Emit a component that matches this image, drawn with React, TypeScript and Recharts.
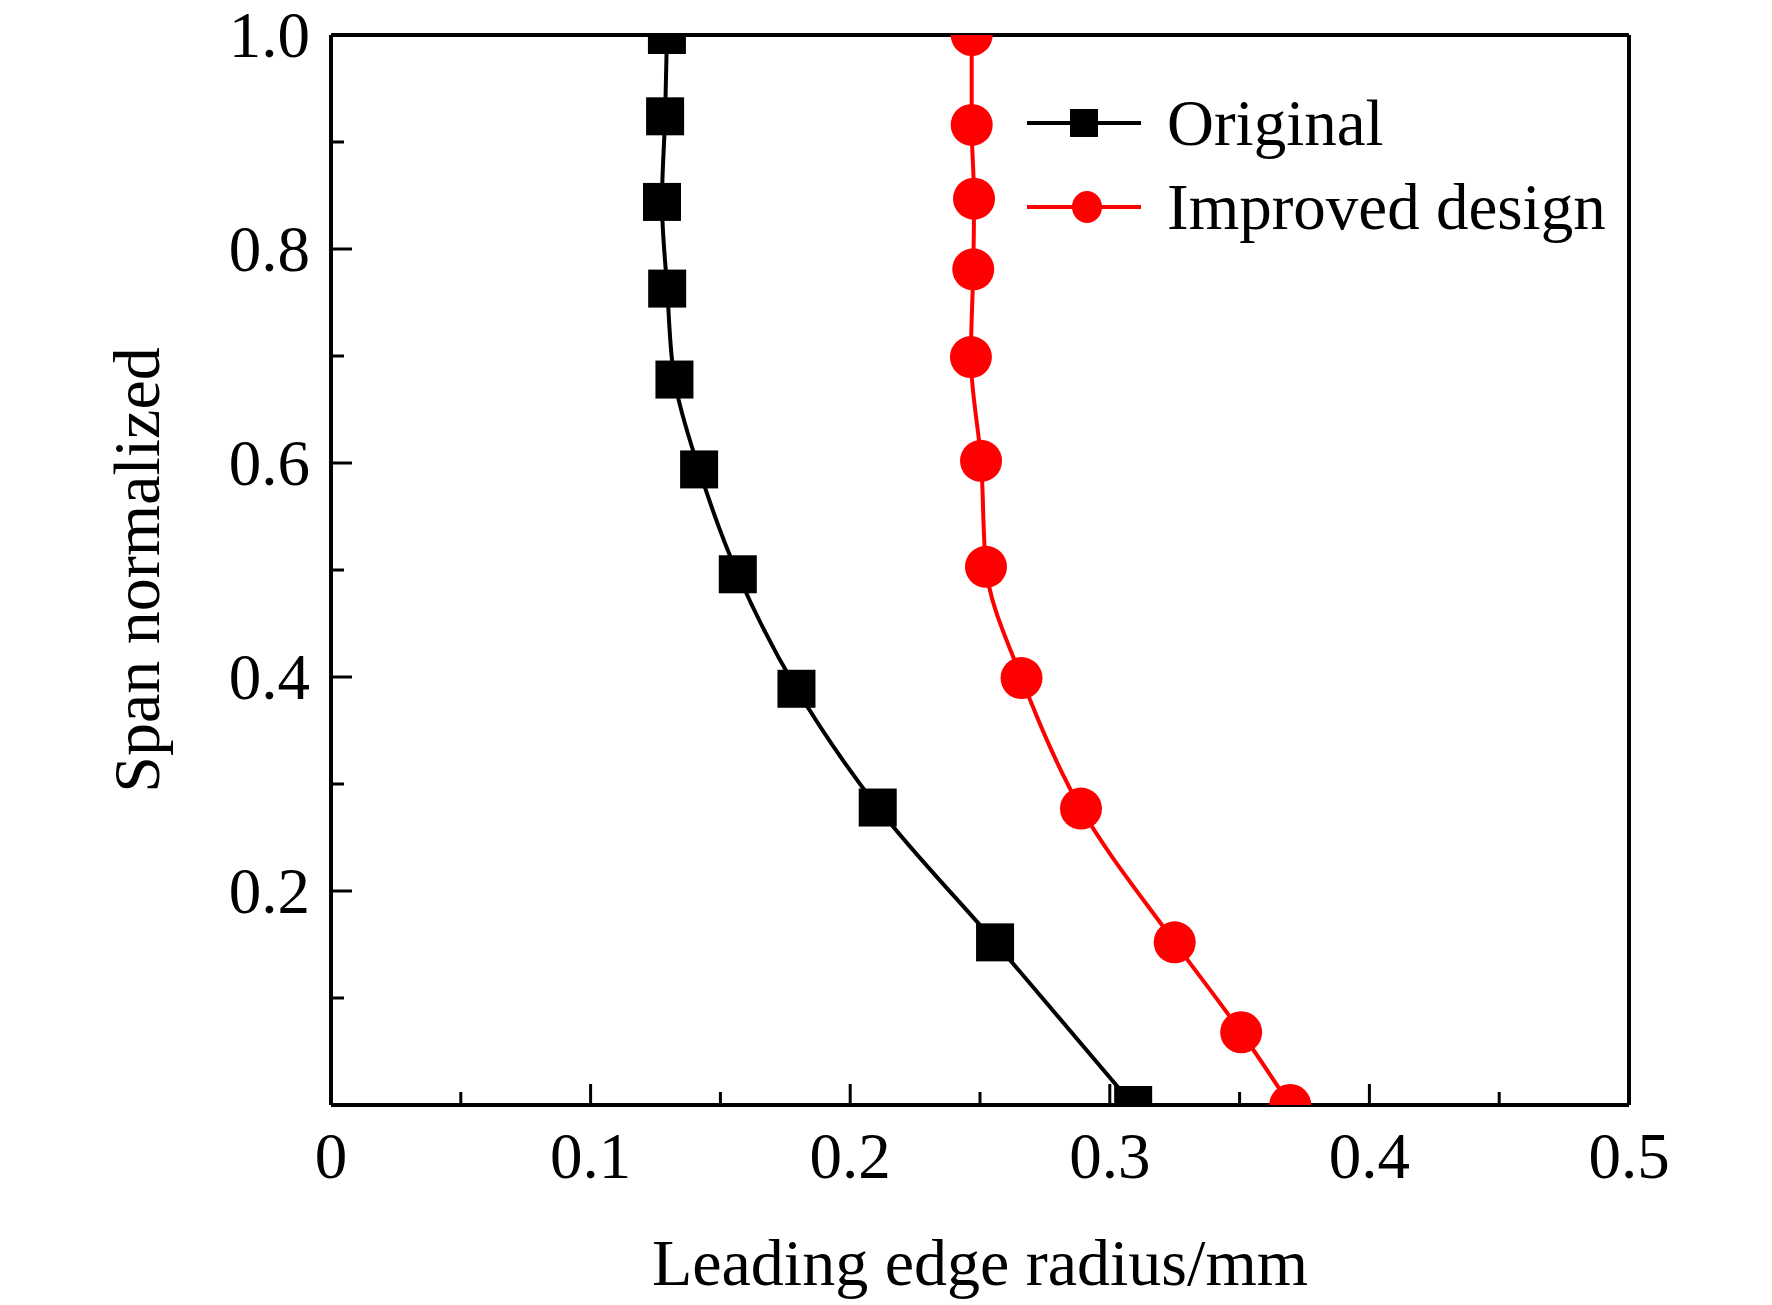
import React from 'react';
import { LineChart, Line, XAxis, YAxis, Legend, ReferenceLine } from 'recharts';

// span positions, top of the blade first
const originalSpan = [1.0, 0.924, 0.844, 0.763, 0.678, 0.594, 0.496, 0.389, 0.278, 0.152, 0.0];
const originalRadius = [0.1294, 0.1287, 0.1275, 0.1295, 0.1323, 0.1418, 0.1567, 0.1793, 0.2106, 0.2558, 0.309];

const improvedSpan = [1.0, 0.916, 0.847, 0.781, 0.699, 0.602, 0.503, 0.399, 0.277, 0.152, 0.068, 0.0];
const improvedRadius = [0.2468, 0.2468, 0.2477, 0.2474, 0.2465, 0.2504, 0.2523, 0.266, 0.2889, 0.325, 0.3506, 0.3695];

const xTicks = [0, 0.05, 0.1, 0.15, 0.2, 0.25, 0.3, 0.35, 0.4, 0.45, 0.5];
const yTicks = [0, 0.1, 0.2, 0.3, 0.4, 0.5, 0.6, 0.7, 0.8, 0.9, 1.0];
const legendOrder = ['Original', 'Improved design'];

const originalData = originalSpan.map((s, i) => ({ span: s, original: originalRadius[i] }));
const improvedData = improvedSpan.map((s, i) => ({ span: s, improved: improvedRadius[i] }));

const FONT = "'Liberation Serif', 'Times New Roman', serif";
const RED = '#ff0000';

const isMajor = (v: number) => Math.abs(v * 10 - Math.round(v * 10)) < 1e-6;

const XTick = (props: any) => {
  const { x, y, payload } = props;
  const v = payload.value;
  const major = isMajor(v);
  return (
    <g>
      <line x1={x} y1={y} x2={x} y2={y - (major ? 21 : 13)} stroke="#000" strokeWidth={3} />
      {major && (
        <text x={x} y={y + 73} textAnchor="middle" fontFamily={FONT} fontSize={65} fill="#000">
          {v === 0 ? '0' : v.toFixed(1)}
        </text>
      )}
    </g>
  );
};

const YTick = (props: any) => {
  const { x, y, payload } = props;
  const v = payload.value;
  if (v === 0) return <g />;
  const major = isMajor(v * 0.5);
  return (
    <g>
      <line x1={x} y1={y} x2={x + (major ? 21 : 13)} y2={y} stroke="#000" strokeWidth={3} />
      {major && (
        <text x={x - 21} y={y + 22} textAnchor="end" fontFamily={FONT} fontSize={65} fill="#000">
          {v.toFixed(1)}
        </text>
      )}
    </g>
  );
};

const SquareDot = (props: any) => {
  const { cx, cy, index } = props;
  if (cx == null || cy == null) return <g key={index} />;
  return <rect key={index} x={cx - 19} y={cy - 19} width={38} height={38} fill="#000" />;
};

const LegendContent = (props: any) => {
  const items = [...(props.payload || [])].sort(
    (a: any, b: any) => legendOrder.indexOf(a.value) - legendOrder.indexOf(b.value)
  );
  return (
    <div style={{ fontFamily: FONT, fontSize: 65, color: '#000' }}>
      {items.map((entry: any) => (
        <div key={entry.value} style={{ display: 'flex', alignItems: 'center', height: 84, lineHeight: '84px' }}>
          <svg width={114} height={40} style={{ display: 'block' }}>
            <line x1={0} y1={20} x2={114} y2={20} stroke={entry.color} strokeWidth={4} />
            {entry.value === 'Original' ? (
              <rect x={57 - 14} y={6} width={28} height={28} fill={entry.color} />
            ) : (
              <ellipse cx={60} cy={20} rx={15} ry={16} fill={entry.color} />
            )}
          </svg>
          <span style={{ marginLeft: 26, whiteSpace: 'nowrap' }}>{entry.value}</span>
        </div>
      ))}
    </div>
  );
};

const XTitle = (props: any) => {
  const { viewBox } = props;
  return (
    <text x={viewBox.x + viewBox.width / 2} y={1285} textAnchor="middle" fontFamily={FONT} fontSize={66} fill="#000">
      Leading edge radius/mm
    </text>
  );
};

const YTitle = (props: any) => {
  const { viewBox } = props;
  const cy = viewBox.y + viewBox.height / 2;
  return (
    <text
      x={159}
      y={cy}
      transform={`rotate(-90, 159, ${cy})`}
      textAnchor="middle"
      fontFamily={FONT}
      fontSize={66}
      fill="#000"
    >
      Span normalized
    </text>
  );
};

export default function App() {
  return (
    <div style={{ position: 'absolute', left: 0, top: 0, background: '#fff' }}>
      <LineChart
        width={1772}
        height={1305}
        layout="vertical"
        margin={{ top: 35, right: 143, bottom: 0, left: 0 }}
      >
        <XAxis
          type="number"
          domain={[0, 0.5]}
          ticks={xTicks}
          interval={0}
          allowDataOverflow
          height={200}
          tickSize={0}
          tickMargin={0}
          tickLine={false}
          tick={<XTick />}
          axisLine={{ stroke: '#000', strokeWidth: 4 }}
          label={<XTitle />}
        />
        <YAxis
          type="number"
          dataKey="span"
          domain={[0, 1]}
          reversed
          ticks={yTicks}
          interval={0}
          allowDataOverflow
          width={331}
          tickSize={0}
          tickMargin={0}
          tickLine={false}
          tick={<YTick />}
          axisLine={{ stroke: '#000', strokeWidth: 4 }}
          label={<YTitle />}
        />
        <ReferenceLine y={1} stroke="#000" strokeWidth={4} ifOverflow="visible" />
        <ReferenceLine x={0.5} stroke="#000" strokeWidth={4} ifOverflow="visible" />
        <Legend
          layout="vertical"
          verticalAlign="middle"
          align="center"
          content={<LegendContent />}
          wrapperStyle={{ left: 1027, top: 81, width: 'auto', height: 'auto' }}
        />
        <Line
          data={originalData}
          dataKey="original"
          name="Original"
          type="monotone"
          stroke="#000"
          strokeWidth={4}
          dot={SquareDot}
          activeDot={false}
          isAnimationActive={false}
        />
        <Line
          data={improvedData}
          dataKey="improved"
          name="Improved design"
          type="monotone"
          stroke={RED}
          strokeWidth={4}
          dot={{ r: 21, fill: RED, stroke: RED, strokeWidth: 0 }}
          activeDot={false}
          isAnimationActive={false}
        />
      </LineChart>
    </div>
  );
}
